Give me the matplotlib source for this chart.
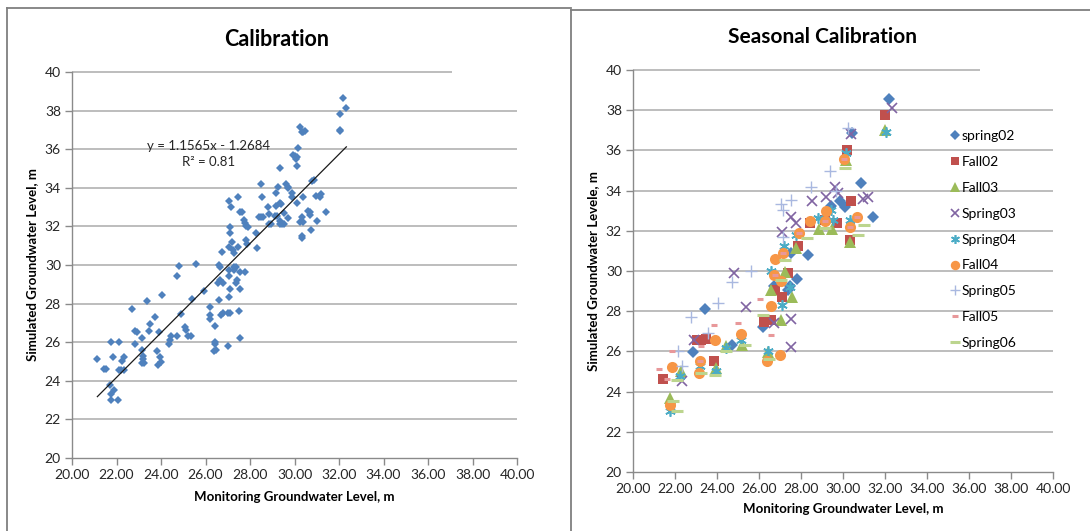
import numpy as np
import matplotlib.pyplot as plt
from matplotlib.lines import Line2D
from matplotlib.ticker import FormatStrFormatter

plt.rcParams['font.family'] = ['Lato', 'DejaVu Sans']

# monitoring vs simulated groundwater level, all seasons together
cal_x = [21.14, 21.45, 21.55, 21.77, 22.13, 21.84, 21.72, 21.77, 21.87, 21.77,
         22.07, 22.10, 22.22, 22.35, 22.25, 22.32, 22.71, 22.82, 22.94, 22.85,
         23.15, 23.15, 23.18, 23.20, 23.15, 23.25, 23.39, 23.48, 23.50, 23.72,
         23.82, 23.87, 23.91, 23.97, 23.98, 24.06, 24.37, 24.42, 24.46, 24.72,
         24.81, 24.73, 24.90, 25.10, 25.14, 25.20, 25.33, 25.38, 25.57, 25.93,
         26.20, 26.20, 26.20, 26.40, 26.49, 26.44, 26.44, 26.44, 26.56, 26.60,
         26.67, 26.62, 26.67, 26.70, 26.77, 26.73, 26.77, 27.00, 27.09, 27.01,
         27.04, 27.04, 27.07, 27.07, 27.07, 27.10, 27.12, 27.12, 27.15, 27.19,
         27.22, 27.26, 27.28, 27.30, 27.35, 27.37, 27.40, 27.45, 27.48, 27.49,
         27.54, 27.63, 27.55, 27.55, 27.57, 27.74, 27.79, 27.84, 27.90, 27.82,
         27.87, 27.79, 28.28, 28.31, 28.39, 28.49, 28.58, 28.49, 28.52, 28.81,
         28.85, 28.94, 28.85, 29.14, 29.21, 29.17, 29.17, 29.26, 29.33, 29.33,
         29.40, 29.33, 29.43, 29.54, 29.36, 29.51, 29.62, 29.70, 29.72, 29.70,
         29.87, 29.90, 29.93, 30.02, 30.10, 30.07, 30.10, 30.16, 30.10, 30.26,
         30.34, 30.40, 30.46, 30.26, 30.37, 30.35, 30.37, 30.35, 30.35, 30.60,
         30.68, 30.70, 30.72, 30.79, 30.86, 31.00, 30.98, 31.13, 31.19, 31.42,
         32.03, 32.06, 32.06, 32.16, 32.33]
cal_y = [25.11, 24.63, 24.63, 26.00, 26.00, 25.23, 23.77, 23.33, 23.50, 23.03,
         23.03, 24.55, 24.55, 24.55, 25.03, 25.23, 27.70, 26.60, 26.55, 25.93,
         26.22, 25.60, 25.30, 25.15, 24.90, 24.90, 28.13, 26.60, 26.94, 27.33,
         25.55, 24.80, 26.54, 25.24, 25.00, 28.44, 25.93, 26.10, 26.33, 29.44,
         29.94, 26.33, 27.45, 26.80, 26.63, 26.33, 26.33, 28.23, 30.03, 28.65,
         27.82, 27.42, 27.22, 25.55, 25.58, 26.83, 26.00, 25.92, 29.05, 29.98,
         29.90, 28.20, 29.20, 27.40, 27.50, 30.65, 29.05, 27.52, 27.52, 25.81,
         33.34, 30.92, 29.43, 29.74, 28.32, 28.74, 31.95, 31.64, 33.03, 31.20,
         30.78, 30.60, 29.90, 29.74, 29.90, 29.08, 29.22, 30.95, 33.53, 27.63,
         32.73, 32.73, 28.74, 26.22, 29.65, 32.33, 32.20, 32.00, 31.95, 31.30,
         31.10, 29.65, 31.64, 30.86, 32.50, 32.50, 32.50, 34.20, 33.52, 33.03,
         32.10, 32.10, 32.63, 32.53, 32.53, 33.75, 33.06, 34.06, 35.05, 33.20,
         33.17, 32.10, 32.10, 32.10, 32.30, 32.67, 34.20, 34.06, 33.98, 32.42,
         33.75, 33.53, 35.70, 35.65, 35.60, 35.50, 35.15, 36.05, 33.20, 37.15,
         36.87, 36.90, 36.95, 32.25, 32.25, 32.50, 33.53, 31.50, 31.42, 32.82,
         32.73, 32.60, 31.82, 34.33, 34.40, 32.30, 33.60, 33.53, 33.70, 32.73,
         37.84, 37.00, 36.92, 38.63, 38.16]

# linear trend fitted to the pairs above
slope = 1.1565
intercept = -1.2684
r_squared = 0.81

# seasonal campaigns
spring02_x = [32.17, 30.43, 30.87, 29.84, 30.08, 29.41, 31.43, 28.33, 27.54, 27.81,
              27.46, 26.71, 26.19, 23.43, 22.87, 24.73, 27.38]
spring02_y = [38.57, 36.88, 34.40, 33.50, 33.20, 33.24, 32.71, 30.80, 30.89, 29.60,
              29.26, 29.26, 27.19, 28.12, 25.95, 26.30, 29.06]

fall02_x = [32.02, 30.17, 30.40, 29.73, 28.44, 30.32, 27.86, 27.38, 27.10, 26.75,
            26.24, 26.59, 23.05, 23.25, 23.49, 23.86, 21.43, 29.13]
fall02_y = [37.76, 36.02, 33.50, 32.41, 32.41, 31.52, 31.22, 29.89, 28.73, 29.06,
            27.44, 27.54, 26.55, 26.55, 26.63, 25.50, 24.62, 32.54]

fall03_x = [32.02, 30.16, 30.35, 29.48, 28.84, 27.78, 27.57, 27.22, 27.06, 26.59,
            26.43, 25.19, 24.44, 23.97, 22.27, 21.75]
fall03_y = [37.02, 35.50, 31.42, 32.08, 32.08, 31.13, 28.73, 29.97, 27.54, 29.03,
            25.97, 26.30, 26.25, 25.17, 25.00, 23.68]

spring03_x = [32.35, 30.37, 30.95, 31.19, 29.63, 29.21, 28.52, 27.54, 27.10, 27.78,
              27.51, 27.54, 26.71, 25.40, 24.81, 22.89, 22.35, 29.76]
spring03_y = [38.10, 36.82, 33.57, 33.70, 34.20, 33.70, 33.50, 32.71, 31.96, 32.38,
              27.60, 26.21, 27.41, 28.20, 29.89, 26.58, 24.54, 33.90]

spring04_x = [32.06, 30.16, 30.32, 29.44, 28.81, 29.52, 27.78, 27.19, 26.59, 27.10,
              26.43, 25.16, 24.44, 23.97, 23.17, 22.22, 21.75, 27.46]
spring04_y = [36.93, 35.86, 32.54, 33.04, 32.63, 32.54, 31.80, 31.22, 30.02, 28.32,
              26.00, 26.55, 26.16, 25.00, 25.25, 24.76, 23.02, 29.20]

fall04_x = [30.05, 29.17, 29.13, 28.41, 30.32, 30.68, 27.90, 27.14, 26.75, 26.71,
            27.03, 26.59, 27.02, 26.40, 25.16, 23.92, 23.19, 23.13, 21.86, 21.75]
fall04_y = [35.58, 33.00, 32.51, 32.51, 32.21, 32.71, 31.91, 30.92, 30.62, 29.81,
            29.48, 28.24, 25.83, 25.53, 26.86, 26.55, 25.53, 24.92, 25.22, 23.31]

spring05_x = [30.24, 29.37, 28.49, 27.51, 27.03, 27.14, 29.68, 25.63, 24.73, 24.06,
              22.75, 23.57, 22.14, 22.33, 27.14]
spring05_y = [37.10, 35.00, 34.20, 33.54, 33.34, 33.04, 34.00, 30.00, 29.43, 28.43,
              27.70, 26.91, 26.03, 25.25, 31.71]

fall05_x = [21.24, 21.87, 21.63, 23.86, 25.00, 26.03, 26.56, 23.25, 30.05, 30.32,
            29.13, 30.68, 27.14, 26.75, 27.90, 23.19]
fall05_y = [25.14, 26.03, 24.62, 27.32, 27.40, 28.60, 26.83, 26.25, 35.55, 32.18,
            32.48, 32.68, 30.90, 29.80, 31.88, 25.50]

spring06_x = [22.11, 22.08, 21.90, 23.25, 23.89, 24.44, 25.32, 26.46, 26.19, 27.06,
              27.22, 28.30, 30.11, 30.71, 31.00, 29.13]
spring06_y = [24.56, 23.02, 23.51, 24.92, 24.84, 26.00, 26.33, 25.63, 27.82, 29.55,
              30.56, 31.63, 35.11, 31.80, 32.30, 32.13]

season_labels = ['spring02', 'Fall02', 'Fall03', 'Spring03', 'Spring04',
                 'Fall04', 'Spring05', 'Fall05', 'Spring06']
season_x = [spring02_x, fall02_x, fall03_x, spring03_x, spring04_x,
            fall04_x, spring05_x, fall05_x, spring06_x]
season_y = [spring02_y, fall02_y, fall03_y, spring03_y, spring04_y,
            fall04_y, spring05_y, fall05_y, spring06_y]

# marker style per season: (marker, size, colour, edge width)
season_styles = [
    ('D', 6.5, '#4F81BD', 0.0),
    ('s', 7.5, '#C0504D', 0.0),
    ('^', 8.0, '#9BBB59', 0.0),
    ('x', 7.5, '#8064A2', 1.2),
    ((6, 2, 0), 7.5, '#4BACC6', 1.2),
    ('o', 8.0, '#F79646', 0.0),
    ('+', 8.0, '#A9B8E0', 1.0),
    ('_', 4.5, '#E8989A', 2.2),
    ('_', 8.0, '#BCD58E', 2.2),
]

W, H = 1090, 531
GRID = '#BDBDBD'
AXC = '#8A8A8A'


def fx(px):
    return px / W


def fy(py):
    return 1 - py / H


def style_axes(ax, top_grid_end):
    ax.set_xlim(20, 40)
    ax.set_ylim(20, 40)
    ax.set_xticks(np.arange(20, 41, 2))
    ax.set_yticks(np.arange(20, 41, 2))
    ax.xaxis.set_major_formatter(FormatStrFormatter('%.2f'))
    ax.spines['top'].set_visible(False)
    ax.spines['right'].set_visible(False)
    for s in ['left', 'bottom']:
        ax.spines[s].set_color(AXC)
        ax.spines[s].set_linewidth(1.0)
    ax.tick_params(direction='out', length=5, width=1.0, color=AXC,
                   labelsize=10, labelcolor='#262626', pad=3)
    for v in range(22, 40, 2):
        ax.axhline(v, color=GRID, lw=1.4, zorder=0)
    ax.hlines(40, 20, top_grid_end, color=GRID, lw=1.4, zorder=0, clip_on=False)


fig = plt.figure(figsize=(W / 100, H / 100), dpi=100)

# panel frames
frame = dict(color='#7F7F7F', lw=1.3, transform=fig.transFigure)
fig.add_artist(Line2D([fx(7), fx(7)], [fy(8), 0], **frame))
fig.add_artist(Line2D([fx(7), fx(571)], [fy(8), fy(8)], **frame))
fig.add_artist(Line2D([fx(571), fx(571)], [fy(10), 0], **frame))
fig.add_artist(Line2D([fx(571), 1], [fy(10), fy(10)], **frame))

# left: all data with trend line
ax1 = fig.add_axes([fx(72), fy(458), fx(517 - 72), (458 - 72) / H])
style_axes(ax1, 37.1)
ax1.plot(cal_x, cal_y, 'D', color='#4F81BD', ms=3.6, mew=0, zorder=3)
tx = np.array([min(cal_x), max(cal_x)])
ax1.plot(tx, slope * tx + intercept, color='#1A1A1A', lw=0.9, zorder=4)
ax1.text(26.15, 35.75,
         f'y = {slope}x - {abs(intercept)}\nR\u00b2 = {r_squared}',
         ha='center', va='center', fontsize=9.5, linespacing=1.35,
         color='#262626')
ax1.set_xlabel('Monitoring Groundwater Level, m', fontsize=9.5,
               fontweight='bold', labelpad=7)
ax1.set_ylabel('Simulated Groundwater Level, m', fontsize=9.5,
               fontweight='bold', labelpad=5)
fig.text(fx(277), fy(40), 'Calibration', ha='center', va='center',
         fontsize=15.5, fontweight='bold')

# right: one series per season
ax2 = fig.add_axes([fx(633), fy(472), fx(1053 - 633), (472 - 70) / H])
style_axes(ax2, 36.5)
for xs, ys, lab, (mk, ms, col, mew) in zip(season_x, season_y,
                                            season_labels, season_styles):
    ax2.plot(xs, ys, linestyle='none', marker=mk, ms=ms, color=col,
             mew=mew, label=lab, zorder=3)
ax2.set_xlabel('Monitoring Groundwater Level, m', fontsize=9.5,
               fontweight='bold', labelpad=6)
ax2.set_ylabel('Simulated Groundwater Levele, m', fontsize=9.5,
               fontweight='bold', labelpad=5)
fig.text(fx(823), fy(37), 'Seasonal Calibration', ha='center', va='center',
         fontsize=15, fontweight='bold')
ax2.legend(loc='upper left', bbox_to_anchor=(fx(950), fy(130)),
           bbox_transform=fig.transFigure, frameon=False, fontsize=10,
           handlelength=0.7, handletextpad=0.15, labelspacing=1.0,
           borderpad=0, borderaxespad=0, markerscale=0.85)

fig.savefig('out.png', dpi=100)
